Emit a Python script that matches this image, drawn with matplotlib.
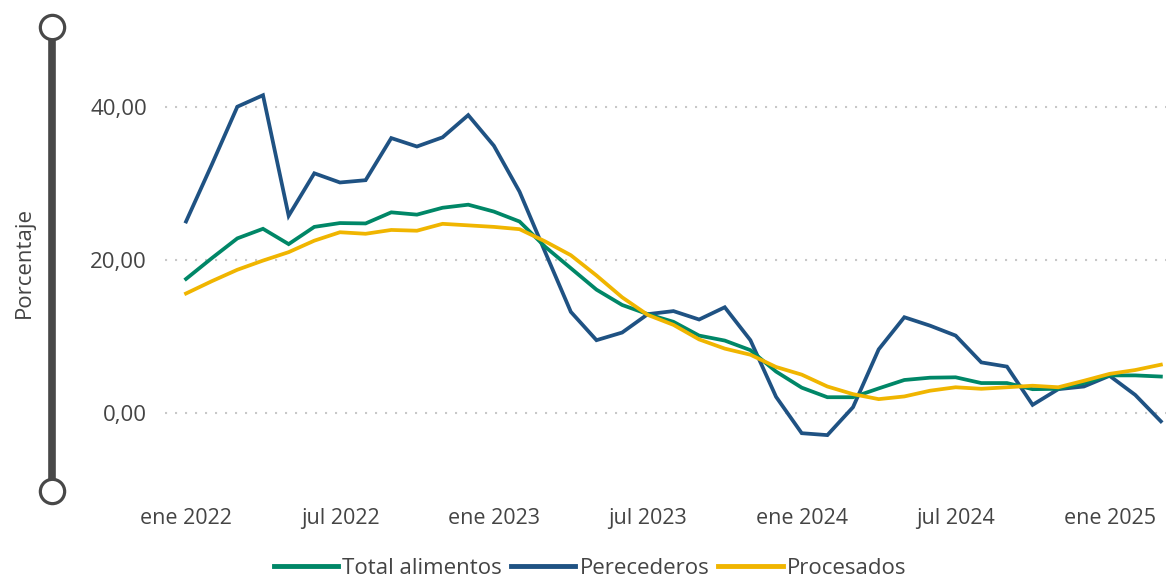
import matplotlib
matplotlib.use("Agg")
import matplotlib.pyplot as plt
from matplotlib.lines import Line2D
import numpy as np

plt.rcParams['font.family'] = ['Open Sans', 'DejaVu Sans']

# monthly series, ene 2022 .. mar 2025 (% interanual)
total_alimentos = [17.5, 20.2, 22.8, 24.05, 22.05, 24.3, 24.8, 24.75, 26.2, 25.9, 26.8, 27.2,
                   26.3, 25.0, 21.7, 18.9, 16.1, 14.1, 12.9, 11.9, 10.1, 9.45, 8.2, 5.4,
                   3.3, 2.05, 2.05, 3.2, 4.3, 4.6, 4.65, 3.9, 3.9, 3.1, 3.15, 3.9,
                   4.9, 4.9, 4.75]
perecederos = [25.0, 32.4, 40.0, 41.5, 25.75, 31.3, 30.1, 30.4, 35.9, 34.8, 36.0, 38.9,
               34.9, 28.9, 21.0, 13.2, 9.5, 10.5, 12.9, 13.3, 12.2, 13.8, 9.5, 2.1,
               -2.65, -2.9, 0.75, 8.3, 12.5, 11.4, 10.1, 6.6, 6.05, 1.05, 3.1, 3.45,
               4.85, 2.35, -1.1]
procesados = [15.6, 17.2, 18.7, 19.9, 21.0, 22.5, 23.6, 23.4, 23.9, 23.8, 24.7, 24.5,
              24.3, 24.0, 22.4, 20.6, 17.95, 15.1, 12.8, 11.5, 9.6, 8.4, 7.6, 6.0,
              5.0, 3.45, 2.45, 1.8, 2.15, 2.9, 3.35, 3.15, 3.35, 3.55, 3.35, 4.2,
              5.1, 5.6, 6.3]

tick_pos = [0, 6, 12, 18, 24, 30, 36]
tick_labels = ["ene 2022", "jul 2022", "ene 2023", "jul 2023", "ene 2024", "jul 2024", "ene 2025"]
y_ticks = [0, 20, 40]

c_total = '#008767'
c_pere = '#1F5283'
c_proc = '#F0B500'
txt = '#444444'
bar = '#484848'

fig = plt.figure(figsize=(11.75, 5.8), dpi=100)
W, H = 1175, 580
ax = fig.add_axes([165 / W, 1 - 490 / H, (1166 - 165) / W, (490 - 60) / H])

x = np.arange(len(total_alimentos))
lw = 2.7
ax.plot(x, perecederos, color=c_pere, lw=lw, solid_joinstyle='miter', zorder=3)
ax.plot(x, total_alimentos, color=c_total, lw=lw, solid_joinstyle='miter', zorder=4)
ax.plot(x, procesados, color=c_proc, lw=lw, solid_joinstyle='miter', zorder=5)

ax.set_xlim(-0.82, 38.2)
ax.set_ylim(-10.07, 46.1)
ax.set_yticks(y_ticks)
ax.set_yticklabels([f"{v:.2f}".replace('.', ',') for v in y_ticks])
ax.set_xticks(tick_pos)
ax.set_xticklabels(tick_labels)
ax.tick_params(axis='both', length=0, colors=txt)
ax.tick_params(axis='y', pad=13, labelsize=16)
ax.tick_params(axis='x', pad=13, labelsize=15.5)
ax.grid(axis='y', color='#c8c8c8', linestyle=(0, (1, 3.8)), lw=1.5)
for s in ax.spines.values():
    s.set_visible(False)

# decorative axis bar with end circles
fig.add_artist(Line2D([52 / W, 52 / W], [1 - 30 / H, 1 - 488 / H], color=bar, lw=5.5,
                      transform=fig.transFigure))
fig.add_artist(Line2D([52 / W, 52 / W], [1 - 27 / H, 1 - 491 / H], lw=0, marker='o',
                      markersize=17.5, markerfacecolor='white', markeredgecolor=bar,
                      markeredgewidth=2.3, transform=fig.transFigure))

fig.text(24 / W, 1 - 262 / H, "Porcentaje", rotation=90, ha='center', va='center',
         fontsize=16, color=txt)

handles = [Line2D([], [], color=c_total, lw=3.5),
           Line2D([], [], color=c_pere, lw=3.5),
           Line2D([], [], color=c_proc, lw=3.5)]
fig.legend(handles, ["Total alimentos", "Perecederos", "Procesados"], loc='center',
           bbox_to_anchor=(590 / W, 1 - 568 / H), ncol=3, frameon=False, fontsize=16,
           handlelength=2.9, handletextpad=0.18, columnspacing=0.4, labelcolor=txt)

fig.savefig("out.png", dpi=100)
